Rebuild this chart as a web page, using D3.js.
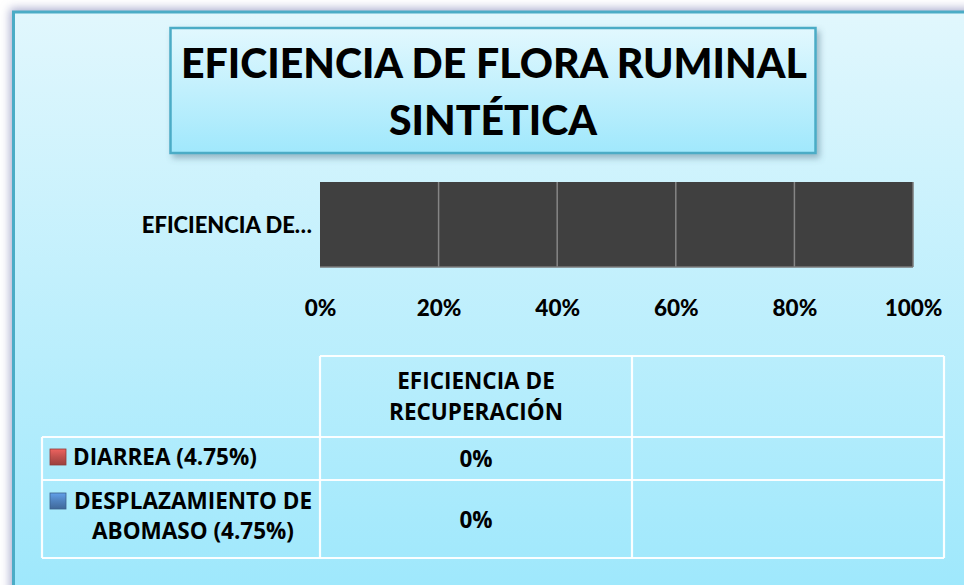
<!DOCTYPE html>
<html>
<head>
<meta charset="utf-8">
<script src="https://cdn.jsdelivr.net/npm/d3@7"></script>
<style>
  html, body { margin: 0; padding: 0; background: #ffffff; }
  svg { display: block; }
  text { font-family: Lato, "Open Sans", sans-serif; font-weight: 900; fill: #000; }
  text.tbl { font-family: "Open Sans", Lato, sans-serif; font-weight: 700; }
</style>
</head>
<body>
<svg id="chart" width="964" height="585"></svg>
<script>
// ---------- DATA ----------
const titleLines = ["EFICIENCIA DE FLORA RUMINAL", "SINTÉTICA"];
const categories = ["EFICIENCIA DE RECUPERACIÓN"];
const categoryAxisLabels = ["EFICIENCIA DE…"];
const tableHeaderLines = ["EFICIENCIA DE", "RECUPERACIÓN"];
const seriesNames = ["DIARREA (4.75%)", "DESPLAZAMIENTO DE ABOMASO (4.75%)"];
const seriesNameLines = [["DIARREA (4.75%)"], ["DESPLAZAMIENTO DE", "ABOMASO (4.75%)"]];
const diarreaValues = [0];
const desplazamientoValues = [0];
const seriesColors = ["#c0504d", "#4f81bd"];
const tickValues = [0, 0.2, 0.4, 0.6, 0.8, 1.0];

const seriesValues = [diarreaValues, desplazamientoValues];

// ---------- SETUP ----------
const svg = d3.select("#chart");
const defs = svg.append("defs");

const bgGrad = defs.append("linearGradient").attr("id", "bgGrad")
  .attr("gradientUnits", "userSpaceOnUse")
  .attr("x1", 0).attr("y1", 12).attr("x2", 0).attr("y2", 585);
bgGrad.append("stop").attr("offset", "0%").attr("stop-color", "#e1f7fd");
bgGrad.append("stop").attr("offset", "100%").attr("stop-color", "#9fe8fc");

const titleGrad = defs.append("linearGradient").attr("id", "titleGrad")
  .attr("x1", 0).attr("y1", 0).attr("x2", 0).attr("y2", 1);
titleGrad.append("stop").attr("offset", "0%").attr("stop-color", "#e2f8fe");
titleGrad.append("stop").attr("offset", "100%").attr("stop-color", "#a0e8fc");

const glow = defs.append("filter").attr("id", "glow")
  .attr("x", "-5%").attr("y", "-5%").attr("width", "110%").attr("height", "110%");
glow.append("feDropShadow").attr("dx", -2).attr("dy", -2).attr("stdDeviation", 5)
  .attr("flood-color", "#8388b8").attr("flood-opacity", 0.7);

const shadow = defs.append("filter").attr("id", "shadow")
  .attr("x", "-5%").attr("y", "-10%").attr("width", "115%").attr("height", "130%");
shadow.append("feDropShadow").attr("dx", 3).attr("dy", 4).attr("stdDeviation", 3)
  .attr("flood-color", "#4a6a80").attr("flood-opacity", 0.45);

seriesColors.forEach((c, i) => {
  const g = defs.append("linearGradient").attr("id", "key" + i)
    .attr("x1", 0).attr("y1", 0).attr("x2", 0).attr("y2", 1);
  g.append("stop").attr("offset", "0%").attr("stop-color", d3.color(c).brighter(0.6));
  g.append("stop").attr("offset", "50%").attr("stop-color", c);
  g.append("stop").attr("offset", "100%").attr("stop-color", d3.color(c).darker(0.6));
});

// ---------- OUTER FRAME ----------
svg.append("rect")
  .attr("x", 13.5).attr("y", 12).attr("width", 1000).attr("height", 700)
  .attr("fill", "url(#bgGrad)").attr("stroke", "#4bacc6").attr("stroke-width", 3)
  .attr("filter", "url(#glow)");

// ---------- TITLE ----------
svg.append("rect")
  .attr("x", 170.5).attr("y", 28).attr("width", 645).attr("height", 125)
  .attr("fill", "url(#titleGrad)").attr("stroke", "#4bacc6").attr("stroke-width", 2.5)
  .attr("filter", "url(#shadow)");

svg.append("text").attr("x", 494).attr("y", 78)
  .attr("text-anchor", "middle").attr("font-size", 41).text(titleLines[0]);
svg.append("text").attr("x", 493).attr("y", 135)
  .attr("text-anchor", "middle").attr("font-size", 41).text(titleLines[1]);

// ---------- PLOT ----------
const x = d3.scaleLinear().domain([0, 1]).range([320, 913]);
const y = d3.scaleBand().domain(categories).range([182, 267]).padding(0);

svg.append("rect")
  .attr("x", x(0)).attr("y", y.range()[0])
  .attr("width", x(1) - x(0)).attr("height", y.range()[1] - y.range()[0])
  .attr("fill", "#404040");

svg.append("g").selectAll("line").data(tickValues.slice(1, -1)).join("line")
  .attr("x1", d => x(d)).attr("x2", d => x(d))
  .attr("y1", y.range()[0]).attr("y2", y.range()[1])
  .attr("stroke", "#858585").attr("stroke-width", 1.5);
svg.append("line").attr("x1", x(1)).attr("x2", x(1))
  .attr("y1", y.range()[0]).attr("y2", y.range()[1])
  .attr("stroke", "#7a7a7a").attr("stroke-width", 1.5);
svg.append("line").attr("x1", x(0)).attr("x2", x(1))
  .attr("y1", y.range()[1]).attr("y2", y.range()[1])
  .attr("stroke", "#7a7a7a").attr("stroke-width", 1.5);

// stacked 100% bars (values are zero)
categories.forEach((cat, ci) => {
  const total = d3.sum(seriesValues, s => s[ci]);
  let acc = 0;
  seriesValues.forEach((s, si) => {
    const frac = total > 0 ? s[ci] / total : 0;
    svg.append("rect")
      .attr("x", x(acc)).attr("y", y(cat) + y.bandwidth() * 0.2)
      .attr("width", x(acc + frac) - x(acc))
      .attr("height", y.bandwidth() * 0.6)
      .attr("fill", seriesColors[si]);
    acc += frac;
  });
});

// x axis
const xAxis = d3.axisBottom(x).tickValues(tickValues)
  .tickFormat(d3.format(".0%")).tickSize(0).tickPadding(0);
const gx = svg.append("g").attr("transform", "translate(0,300)").call(xAxis);
gx.select(".domain").remove();
gx.selectAll("text")
  .attr("dy", "0").attr("y", 16)
  .style("font-family", "Lato, 'Open Sans', sans-serif")
  .style("font-weight", 900).style("font-size", "22.5px").style("fill", "#000");

// category label
svg.append("g").selectAll("text").data(categories).join("text")
  .attr("x", 312).attr("y", (d) => y(d) + y.bandwidth() / 2 + 8)
  .attr("text-anchor", "end").attr("font-size", 22)
  .text((d, i) => categoryAxisLabels[i]);

// ---------- DATA TABLE ----------
const colX = [42, 320, 632, 944];
const rowY = [356, 437, 480, 558];
const tbl = svg.append("g").attr("stroke", "#ffffff").attr("stroke-width", 2.2)
  .attr("stroke-opacity", 0.95);
tbl.append("line").attr("x1", colX[1]).attr("x2", colX[3]).attr("y1", rowY[0]).attr("y2", rowY[0]);
rowY.slice(1).forEach(yy => {
  tbl.append("line").attr("x1", colX[0]).attr("x2", colX[3]).attr("y1", yy).attr("y2", yy);
});
tbl.append("line").attr("x1", colX[0]).attr("x2", colX[0]).attr("y1", rowY[1]).attr("y2", rowY[3]);
colX.slice(1).forEach(xx => {
  tbl.append("line").attr("x1", xx).attr("x2", xx).attr("y1", rowY[0]).attr("y2", rowY[3]);
});

const colCenter = (colX[1] + colX[2]) / 2;
const tblFont = 22.5;
tableHeaderLines.forEach((t, i) => {
  svg.append("text").attr("class", "tbl").attr("x", colCenter).attr("y", 389 + i * 30.5)
    .attr("text-anchor", "middle").attr("font-size", tblFont).text(t);
});

const rowBaselines = [[465], [509, 539]];
const valueBaselines = [467, 528];
seriesNames.forEach((name, si) => {
  const keyY = rowBaselines[si][0] - 16;
  svg.append("rect").attr("x", 50).attr("y", keyY).attr("width", 16).attr("height", 16)
    .attr("fill", `url(#key${si})`).attr("stroke", d3.color(seriesColors[si]).darker(0.8))
    .attr("stroke-width", 0.8);
  const lines = seriesNameLines[si];
  if (lines.length === 1) {
    svg.append("text").attr("class", "tbl").attr("x", 73).attr("y", rowBaselines[si][0])
      .attr("font-size", tblFont).text(lines[0]);
  } else {
    lines.forEach((t, li) => {
      svg.append("text").attr("class", "tbl").attr("x", 193).attr("y", rowBaselines[si][li])
        .attr("text-anchor", "middle").attr("font-size", tblFont).text(t);
    });
  }
  categories.forEach((cat, ci) => {
    svg.append("text").attr("class", "tbl").attr("x", colCenter).attr("y", valueBaselines[si])
      .attr("text-anchor", "middle").attr("font-size", tblFont)
      .text(d3.format(".0%")(seriesValues[si][ci]));
  });
});
</script>
</body>
</html>
